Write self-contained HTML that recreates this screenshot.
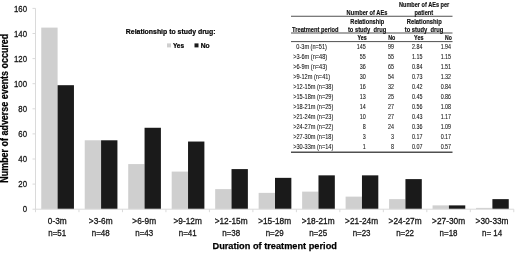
<!DOCTYPE html>
<html><head><meta charset="utf-8"><style>
html,body{margin:0;padding:0;background:#fff;}
body{width:520px;height:253px;overflow:hidden;}
svg{display:block;font-family:"Liberation Sans", sans-serif;filter:blur(0.35px);}
</style></head><body>
<svg width="520" height="253" viewBox="0 0 520 253">
<rect width="520" height="253" fill="#fff"/>
<rect x="41.25" y="27.61" width="16.35" height="181.54" fill="#cfcfcf"/>
<rect x="57.60" y="85.20" width="16.35" height="123.95" fill="#1a1a1a"/>
<rect x="84.73" y="140.29" width="16.35" height="68.86" fill="#cfcfcf"/>
<rect x="101.08" y="140.29" width="16.35" height="68.86" fill="#1a1a1a"/>
<rect x="128.21" y="164.08" width="16.35" height="45.07" fill="#cfcfcf"/>
<rect x="144.56" y="127.77" width="16.35" height="81.38" fill="#1a1a1a"/>
<rect x="171.69" y="171.59" width="16.35" height="37.56" fill="#cfcfcf"/>
<rect x="188.04" y="141.54" width="16.35" height="67.61" fill="#1a1a1a"/>
<rect x="215.17" y="189.12" width="16.35" height="20.03" fill="#cfcfcf"/>
<rect x="231.52" y="169.09" width="16.35" height="40.06" fill="#1a1a1a"/>
<rect x="258.65" y="192.87" width="16.35" height="16.28" fill="#cfcfcf"/>
<rect x="275.00" y="177.85" width="16.35" height="31.30" fill="#1a1a1a"/>
<rect x="302.13" y="191.62" width="16.35" height="17.53" fill="#cfcfcf"/>
<rect x="318.48" y="175.35" width="16.35" height="33.80" fill="#1a1a1a"/>
<rect x="345.61" y="196.63" width="16.35" height="12.52" fill="#cfcfcf"/>
<rect x="361.96" y="175.35" width="16.35" height="33.80" fill="#1a1a1a"/>
<rect x="389.09" y="199.13" width="16.35" height="10.02" fill="#cfcfcf"/>
<rect x="405.44" y="179.10" width="16.35" height="30.05" fill="#1a1a1a"/>
<rect x="432.57" y="205.39" width="16.35" height="3.76" fill="#cfcfcf"/>
<rect x="448.92" y="205.39" width="16.35" height="3.76" fill="#1a1a1a"/>
<rect x="476.05" y="207.90" width="16.35" height="1.25" fill="#cfcfcf"/>
<rect x="492.40" y="199.13" width="16.35" height="10.02" fill="#1a1a1a"/>
<line x1="35.5" y1="8.4" x2="35.5" y2="209.7" stroke="#dadada" stroke-width="1"/>
<line x1="35.5" y1="209.2" x2="513.78" y2="209.2" stroke="#dadada" stroke-width="1"/>
<line x1="32.5" y1="209.20" x2="35.5" y2="209.20" stroke="#dadada" stroke-width="1"/>
<text x="27.00" y="212.45" font-size="9.8" text-anchor="end" textLength="4.34" lengthAdjust="spacingAndGlyphs" fill="#141414" stroke="#141414" stroke-width="0.3">0</text>
<line x1="32.5" y1="184.10" x2="35.5" y2="184.10" stroke="#dadada" stroke-width="1"/>
<text x="27.00" y="187.35" font-size="9.8" text-anchor="end" textLength="8.68" lengthAdjust="spacingAndGlyphs" fill="#141414" stroke="#141414" stroke-width="0.3">20</text>
<line x1="32.5" y1="159.00" x2="35.5" y2="159.00" stroke="#dadada" stroke-width="1"/>
<text x="27.00" y="162.25" font-size="9.8" text-anchor="end" textLength="8.68" lengthAdjust="spacingAndGlyphs" fill="#141414" stroke="#141414" stroke-width="0.3">40</text>
<line x1="32.5" y1="133.90" x2="35.5" y2="133.90" stroke="#dadada" stroke-width="1"/>
<text x="27.00" y="137.15" font-size="9.8" text-anchor="end" textLength="8.68" lengthAdjust="spacingAndGlyphs" fill="#141414" stroke="#141414" stroke-width="0.3">60</text>
<line x1="32.5" y1="108.80" x2="35.5" y2="108.80" stroke="#dadada" stroke-width="1"/>
<text x="27.00" y="112.05" font-size="9.8" text-anchor="end" textLength="8.68" lengthAdjust="spacingAndGlyphs" fill="#141414" stroke="#141414" stroke-width="0.3">80</text>
<line x1="32.5" y1="83.70" x2="35.5" y2="83.70" stroke="#dadada" stroke-width="1"/>
<text x="27.00" y="86.95" font-size="9.8" text-anchor="end" textLength="13.01" lengthAdjust="spacingAndGlyphs" fill="#141414" stroke="#141414" stroke-width="0.3">100</text>
<line x1="32.5" y1="58.60" x2="35.5" y2="58.60" stroke="#dadada" stroke-width="1"/>
<text x="27.00" y="61.85" font-size="9.8" text-anchor="end" textLength="13.01" lengthAdjust="spacingAndGlyphs" fill="#141414" stroke="#141414" stroke-width="0.3">120</text>
<line x1="32.5" y1="33.50" x2="35.5" y2="33.50" stroke="#dadada" stroke-width="1"/>
<text x="27.00" y="36.75" font-size="9.8" text-anchor="end" textLength="13.01" lengthAdjust="spacingAndGlyphs" fill="#141414" stroke="#141414" stroke-width="0.3">140</text>
<line x1="32.5" y1="8.40" x2="35.5" y2="8.40" stroke="#dadada" stroke-width="1"/>
<text x="27.00" y="11.65" font-size="9.8" text-anchor="end" textLength="13.01" lengthAdjust="spacingAndGlyphs" fill="#141414" stroke="#141414" stroke-width="0.3">160</text>
<line x1="35.50" y1="209.2" x2="35.50" y2="212.2" stroke="#dadada" stroke-width="1"/>
<line x1="78.98" y1="209.2" x2="78.98" y2="212.2" stroke="#dadada" stroke-width="1"/>
<line x1="122.46" y1="209.2" x2="122.46" y2="212.2" stroke="#dadada" stroke-width="1"/>
<line x1="165.94" y1="209.2" x2="165.94" y2="212.2" stroke="#dadada" stroke-width="1"/>
<line x1="209.42" y1="209.2" x2="209.42" y2="212.2" stroke="#dadada" stroke-width="1"/>
<line x1="252.90" y1="209.2" x2="252.90" y2="212.2" stroke="#dadada" stroke-width="1"/>
<line x1="296.38" y1="209.2" x2="296.38" y2="212.2" stroke="#dadada" stroke-width="1"/>
<line x1="339.86" y1="209.2" x2="339.86" y2="212.2" stroke="#dadada" stroke-width="1"/>
<line x1="383.34" y1="209.2" x2="383.34" y2="212.2" stroke="#dadada" stroke-width="1"/>
<line x1="426.82" y1="209.2" x2="426.82" y2="212.2" stroke="#dadada" stroke-width="1"/>
<line x1="470.30" y1="209.2" x2="470.30" y2="212.2" stroke="#dadada" stroke-width="1"/>
<line x1="513.78" y1="209.2" x2="513.78" y2="212.2" stroke="#dadada" stroke-width="1"/>
<text x="57.24" y="224.40" font-size="9.3" text-anchor="middle" textLength="18.91" lengthAdjust="spacingAndGlyphs" fill="#141414" stroke="#141414" stroke-width="0.3">0-3m</text>
<text x="57.24" y="235.60" font-size="9.7" text-anchor="middle" textLength="17.91" lengthAdjust="spacingAndGlyphs" fill="#141414" stroke="#141414" stroke-width="0.3">n=51</text>
<text x="100.72" y="224.40" font-size="9.3" text-anchor="middle" textLength="23.76" lengthAdjust="spacingAndGlyphs" fill="#141414" stroke="#141414" stroke-width="0.3">&gt;3-6m</text>
<text x="100.72" y="235.60" font-size="9.7" text-anchor="middle" textLength="17.91" lengthAdjust="spacingAndGlyphs" fill="#141414" stroke="#141414" stroke-width="0.3">n=48</text>
<text x="144.20" y="224.40" font-size="9.3" text-anchor="middle" textLength="23.76" lengthAdjust="spacingAndGlyphs" fill="#141414" stroke="#141414" stroke-width="0.3">&gt;6-9m</text>
<text x="144.20" y="235.60" font-size="9.7" text-anchor="middle" textLength="17.91" lengthAdjust="spacingAndGlyphs" fill="#141414" stroke="#141414" stroke-width="0.3">n=43</text>
<text x="187.68" y="224.40" font-size="9.3" text-anchor="middle" textLength="28.37" lengthAdjust="spacingAndGlyphs" fill="#141414" stroke="#141414" stroke-width="0.3">&gt;9-12m</text>
<text x="187.68" y="235.60" font-size="9.7" text-anchor="middle" textLength="17.91" lengthAdjust="spacingAndGlyphs" fill="#141414" stroke="#141414" stroke-width="0.3">n=41</text>
<text x="231.16" y="224.40" font-size="9.3" text-anchor="middle" textLength="32.99" lengthAdjust="spacingAndGlyphs" fill="#141414" stroke="#141414" stroke-width="0.3">&gt;12-15m</text>
<text x="231.16" y="235.60" font-size="9.7" text-anchor="middle" textLength="17.91" lengthAdjust="spacingAndGlyphs" fill="#141414" stroke="#141414" stroke-width="0.3">n=38</text>
<text x="274.64" y="224.40" font-size="9.3" text-anchor="middle" textLength="32.99" lengthAdjust="spacingAndGlyphs" fill="#141414" stroke="#141414" stroke-width="0.3">&gt;15-18m</text>
<text x="274.64" y="235.60" font-size="9.7" text-anchor="middle" textLength="17.91" lengthAdjust="spacingAndGlyphs" fill="#141414" stroke="#141414" stroke-width="0.3">n=29</text>
<text x="318.12" y="224.40" font-size="9.3" text-anchor="middle" textLength="32.99" lengthAdjust="spacingAndGlyphs" fill="#141414" stroke="#141414" stroke-width="0.3">&gt;18-21m</text>
<text x="318.12" y="235.60" font-size="9.7" text-anchor="middle" textLength="17.91" lengthAdjust="spacingAndGlyphs" fill="#141414" stroke="#141414" stroke-width="0.3">n=25</text>
<text x="361.60" y="224.40" font-size="9.3" text-anchor="middle" textLength="32.99" lengthAdjust="spacingAndGlyphs" fill="#141414" stroke="#141414" stroke-width="0.3">&gt;21-24m</text>
<text x="361.60" y="235.60" font-size="9.7" text-anchor="middle" textLength="17.91" lengthAdjust="spacingAndGlyphs" fill="#141414" stroke="#141414" stroke-width="0.3">n=23</text>
<text x="405.08" y="224.40" font-size="9.3" text-anchor="middle" textLength="32.99" lengthAdjust="spacingAndGlyphs" fill="#141414" stroke="#141414" stroke-width="0.3">&gt;24-27m</text>
<text x="405.08" y="235.60" font-size="9.7" text-anchor="middle" textLength="17.91" lengthAdjust="spacingAndGlyphs" fill="#141414" stroke="#141414" stroke-width="0.3">n=22</text>
<text x="448.56" y="224.40" font-size="9.3" text-anchor="middle" textLength="32.99" lengthAdjust="spacingAndGlyphs" fill="#141414" stroke="#141414" stroke-width="0.3">&gt;27-30m</text>
<text x="448.56" y="235.60" font-size="9.7" text-anchor="middle" textLength="17.91" lengthAdjust="spacingAndGlyphs" fill="#141414" stroke="#141414" stroke-width="0.3">n=18</text>
<text x="492.04" y="224.40" font-size="9.3" text-anchor="middle" textLength="32.99" lengthAdjust="spacingAndGlyphs" fill="#141414" stroke="#141414" stroke-width="0.3">&gt;30-33m</text>
<text x="492.04" y="235.60" font-size="9.7" text-anchor="middle" textLength="20.11" lengthAdjust="spacingAndGlyphs" fill="#141414" stroke="#141414" stroke-width="0.3">n= 14</text>
<text x="274.70" y="249.00" font-size="9.8" font-weight="bold" text-anchor="middle" textLength="124.40" lengthAdjust="spacingAndGlyphs" fill="#000" stroke="#000" stroke-width="0.25">Duration of treatment period</text>
<g transform="translate(8.2,108.2) rotate(-90)">
<text x="0.00" y="0.00" font-size="10.6" font-weight="bold" text-anchor="middle" textLength="149.00" lengthAdjust="spacingAndGlyphs" fill="#000" stroke="#000" stroke-width="0.25">Number of adverse events occured</text>
</g>
<text x="125.80" y="33.80" font-size="7.3" font-weight="bold" textLength="89.80" lengthAdjust="spacingAndGlyphs" fill="#000" stroke="#000" stroke-width="0.2">Relationship to study drug:</text>
<rect x="167" y="43.4" width="4" height="4" fill="#cfcfcf"/>
<rect x="194.5" y="43.4" width="4" height="4" fill="#1a1a1a"/>
<text x="172.90" y="47.60" font-size="7.1" font-weight="bold" textLength="11.20" lengthAdjust="spacingAndGlyphs" fill="#000" stroke="#000" stroke-width="0.2">Yes</text>
<text x="200.70" y="47.60" font-size="7.1" font-weight="bold" textLength="9.00" lengthAdjust="spacingAndGlyphs" fill="#000" stroke="#000" stroke-width="0.2">No</text>
<line x1="291" y1="16.25" x2="452.5" y2="16.25" stroke="#505050" stroke-width="1"/>
<line x1="291" y1="33.0" x2="452.5" y2="33.0" stroke="#505050" stroke-width="1"/>
<line x1="291" y1="41.6" x2="452.5" y2="41.6" stroke="#505050" stroke-width="1"/>
<line x1="291" y1="152.3" x2="452.5" y2="152.3" stroke="#505050" stroke-width="1.5"/>
<text x="346.60" y="15.00" font-size="6.4" font-weight="bold" textLength="40.80" lengthAdjust="spacingAndGlyphs" fill="#111" stroke="#111" stroke-width="0.15">Number of AEs</text>
<text x="399.00" y="6.70" font-size="6.4" font-weight="bold" textLength="50.20" lengthAdjust="spacingAndGlyphs" fill="#111" stroke="#111" stroke-width="0.15">Number of AEs per</text>
<text x="414.60" y="14.90" font-size="6.4" font-weight="bold" textLength="18.50" lengthAdjust="spacingAndGlyphs" fill="#111" stroke="#111" stroke-width="0.15">patient</text>
<text x="350.30" y="23.70" font-size="6.4" font-weight="bold" textLength="33.90" lengthAdjust="spacingAndGlyphs" fill="#111" stroke="#111" stroke-width="0.15">Relationship</text>
<text x="347.90" y="31.90" font-size="6.4" font-weight="bold" textLength="38.40" lengthAdjust="spacingAndGlyphs" fill="#111" stroke="#111" stroke-width="0.15">to study  drug</text>
<text x="406.80" y="23.70" font-size="6.4" font-weight="bold" textLength="35.00" lengthAdjust="spacingAndGlyphs" fill="#111" stroke="#111" stroke-width="0.15">Relationship</text>
<text x="404.80" y="31.90" font-size="6.4" font-weight="bold" textLength="38.60" lengthAdjust="spacingAndGlyphs" fill="#111" stroke="#111" stroke-width="0.15">to study  drug</text>
<text x="292.10" y="31.50" font-size="6.4" font-weight="bold" textLength="46.40" lengthAdjust="spacingAndGlyphs" fill="#111" stroke="#111" stroke-width="0.15">Treatment period</text>
<text x="357.50" y="39.70" font-size="6.4" font-weight="bold" textLength="9.20" lengthAdjust="spacingAndGlyphs" fill="#111" stroke="#111" stroke-width="0.15">Yes</text>
<text x="388.20" y="39.70" font-size="6.4" font-weight="bold" textLength="7.10" lengthAdjust="spacingAndGlyphs" fill="#111" stroke="#111" stroke-width="0.15">No</text>
<text x="414.10" y="39.70" font-size="6.4" font-weight="bold" textLength="9.40" lengthAdjust="spacingAndGlyphs" fill="#111" stroke="#111" stroke-width="0.15">Yes</text>
<text x="445.00" y="39.70" font-size="6.4" font-weight="bold" textLength="6.80" lengthAdjust="spacingAndGlyphs" fill="#111" stroke="#111" stroke-width="0.15">No</text>
<text x="296.30" y="48.90" font-size="6.4" textLength="30.66" lengthAdjust="spacingAndGlyphs" fill="#111" stroke="#111" stroke-width="0.07">0-3m (n=51)</text>
<text x="356.83" y="48.90" font-size="6.4" textLength="8.97" lengthAdjust="spacingAndGlyphs" fill="#111" stroke="#111" stroke-width="0.07">145</text>
<text x="388.12" y="48.90" font-size="6.4" textLength="5.98" lengthAdjust="spacingAndGlyphs" fill="#111" stroke="#111" stroke-width="0.07">99</text>
<text x="412.04" y="48.90" font-size="6.4" textLength="10.46" lengthAdjust="spacingAndGlyphs" fill="#111" stroke="#111" stroke-width="0.07">2.84</text>
<text x="440.64" y="48.90" font-size="6.4" textLength="10.46" lengthAdjust="spacingAndGlyphs" fill="#111" stroke="#111" stroke-width="0.07">1.94</text>
<text x="293.20" y="58.86" font-size="6.4" textLength="33.93" lengthAdjust="spacingAndGlyphs" fill="#111" stroke="#111" stroke-width="0.07">&gt;3-6m (n=48)</text>
<text x="359.82" y="58.86" font-size="6.4" textLength="5.98" lengthAdjust="spacingAndGlyphs" fill="#111" stroke="#111" stroke-width="0.07">55</text>
<text x="388.12" y="58.86" font-size="6.4" textLength="5.98" lengthAdjust="spacingAndGlyphs" fill="#111" stroke="#111" stroke-width="0.07">55</text>
<text x="412.04" y="58.86" font-size="6.4" textLength="10.46" lengthAdjust="spacingAndGlyphs" fill="#111" stroke="#111" stroke-width="0.07">1.15</text>
<text x="440.64" y="58.86" font-size="6.4" textLength="10.46" lengthAdjust="spacingAndGlyphs" fill="#111" stroke="#111" stroke-width="0.07">1.15</text>
<text x="293.20" y="68.82" font-size="6.4" textLength="33.93" lengthAdjust="spacingAndGlyphs" fill="#111" stroke="#111" stroke-width="0.07">&gt;6-9m (n=43)</text>
<text x="359.82" y="68.82" font-size="6.4" textLength="5.98" lengthAdjust="spacingAndGlyphs" fill="#111" stroke="#111" stroke-width="0.07">36</text>
<text x="388.12" y="68.82" font-size="6.4" textLength="5.98" lengthAdjust="spacingAndGlyphs" fill="#111" stroke="#111" stroke-width="0.07">65</text>
<text x="412.04" y="68.82" font-size="6.4" textLength="10.46" lengthAdjust="spacingAndGlyphs" fill="#111" stroke="#111" stroke-width="0.07">0.84</text>
<text x="440.64" y="68.82" font-size="6.4" textLength="10.46" lengthAdjust="spacingAndGlyphs" fill="#111" stroke="#111" stroke-width="0.07">1.51</text>
<text x="293.20" y="78.78" font-size="6.4" textLength="37.04" lengthAdjust="spacingAndGlyphs" fill="#111" stroke="#111" stroke-width="0.07">&gt;9-12m (n=41)</text>
<text x="359.82" y="78.78" font-size="6.4" textLength="5.98" lengthAdjust="spacingAndGlyphs" fill="#111" stroke="#111" stroke-width="0.07">30</text>
<text x="388.12" y="78.78" font-size="6.4" textLength="5.98" lengthAdjust="spacingAndGlyphs" fill="#111" stroke="#111" stroke-width="0.07">54</text>
<text x="412.04" y="78.78" font-size="6.4" textLength="10.46" lengthAdjust="spacingAndGlyphs" fill="#111" stroke="#111" stroke-width="0.07">0.73</text>
<text x="440.64" y="78.78" font-size="6.4" textLength="10.46" lengthAdjust="spacingAndGlyphs" fill="#111" stroke="#111" stroke-width="0.07">1.32</text>
<text x="293.20" y="88.74" font-size="6.4" textLength="40.15" lengthAdjust="spacingAndGlyphs" fill="#111" stroke="#111" stroke-width="0.07">&gt;12-15m (n=38)</text>
<text x="359.82" y="88.74" font-size="6.4" textLength="5.98" lengthAdjust="spacingAndGlyphs" fill="#111" stroke="#111" stroke-width="0.07">16</text>
<text x="388.12" y="88.74" font-size="6.4" textLength="5.98" lengthAdjust="spacingAndGlyphs" fill="#111" stroke="#111" stroke-width="0.07">32</text>
<text x="412.04" y="88.74" font-size="6.4" textLength="10.46" lengthAdjust="spacingAndGlyphs" fill="#111" stroke="#111" stroke-width="0.07">0.42</text>
<text x="440.64" y="88.74" font-size="6.4" textLength="10.46" lengthAdjust="spacingAndGlyphs" fill="#111" stroke="#111" stroke-width="0.07">0.84</text>
<text x="293.20" y="98.70" font-size="6.4" textLength="40.15" lengthAdjust="spacingAndGlyphs" fill="#111" stroke="#111" stroke-width="0.07">&gt;15-18m (n=29)</text>
<text x="359.82" y="98.70" font-size="6.4" textLength="5.98" lengthAdjust="spacingAndGlyphs" fill="#111" stroke="#111" stroke-width="0.07">13</text>
<text x="388.12" y="98.70" font-size="6.4" textLength="5.98" lengthAdjust="spacingAndGlyphs" fill="#111" stroke="#111" stroke-width="0.07">25</text>
<text x="412.04" y="98.70" font-size="6.4" textLength="10.46" lengthAdjust="spacingAndGlyphs" fill="#111" stroke="#111" stroke-width="0.07">0.45</text>
<text x="440.64" y="98.70" font-size="6.4" textLength="10.46" lengthAdjust="spacingAndGlyphs" fill="#111" stroke="#111" stroke-width="0.07">0.86</text>
<text x="293.20" y="108.66" font-size="6.4" textLength="40.15" lengthAdjust="spacingAndGlyphs" fill="#111" stroke="#111" stroke-width="0.07">&gt;18-21m (n=25)</text>
<text x="359.82" y="108.66" font-size="6.4" textLength="5.98" lengthAdjust="spacingAndGlyphs" fill="#111" stroke="#111" stroke-width="0.07">14</text>
<text x="388.12" y="108.66" font-size="6.4" textLength="5.98" lengthAdjust="spacingAndGlyphs" fill="#111" stroke="#111" stroke-width="0.07">27</text>
<text x="412.04" y="108.66" font-size="6.4" textLength="10.46" lengthAdjust="spacingAndGlyphs" fill="#111" stroke="#111" stroke-width="0.07">0.56</text>
<text x="440.64" y="108.66" font-size="6.4" textLength="10.46" lengthAdjust="spacingAndGlyphs" fill="#111" stroke="#111" stroke-width="0.07">1.08</text>
<text x="293.20" y="118.62" font-size="6.4" textLength="40.15" lengthAdjust="spacingAndGlyphs" fill="#111" stroke="#111" stroke-width="0.07">&gt;21-24m (n=23)</text>
<text x="359.82" y="118.62" font-size="6.4" textLength="5.98" lengthAdjust="spacingAndGlyphs" fill="#111" stroke="#111" stroke-width="0.07">10</text>
<text x="388.12" y="118.62" font-size="6.4" textLength="5.98" lengthAdjust="spacingAndGlyphs" fill="#111" stroke="#111" stroke-width="0.07">27</text>
<text x="412.04" y="118.62" font-size="6.4" textLength="10.46" lengthAdjust="spacingAndGlyphs" fill="#111" stroke="#111" stroke-width="0.07">0.43</text>
<text x="440.64" y="118.62" font-size="6.4" textLength="10.46" lengthAdjust="spacingAndGlyphs" fill="#111" stroke="#111" stroke-width="0.07">1.17</text>
<text x="293.20" y="128.58" font-size="6.4" textLength="40.15" lengthAdjust="spacingAndGlyphs" fill="#111" stroke="#111" stroke-width="0.07">&gt;24-27m (n=22)</text>
<text x="362.81" y="128.58" font-size="6.4" textLength="2.99" lengthAdjust="spacingAndGlyphs" fill="#111" stroke="#111" stroke-width="0.07">8</text>
<text x="388.12" y="128.58" font-size="6.4" textLength="5.98" lengthAdjust="spacingAndGlyphs" fill="#111" stroke="#111" stroke-width="0.07">24</text>
<text x="412.04" y="128.58" font-size="6.4" textLength="10.46" lengthAdjust="spacingAndGlyphs" fill="#111" stroke="#111" stroke-width="0.07">0.36</text>
<text x="440.64" y="128.58" font-size="6.4" textLength="10.46" lengthAdjust="spacingAndGlyphs" fill="#111" stroke="#111" stroke-width="0.07">1.09</text>
<text x="293.20" y="138.54" font-size="6.4" textLength="40.15" lengthAdjust="spacingAndGlyphs" fill="#111" stroke="#111" stroke-width="0.07">&gt;27-30m (n=18)</text>
<text x="362.81" y="138.54" font-size="6.4" textLength="2.99" lengthAdjust="spacingAndGlyphs" fill="#111" stroke="#111" stroke-width="0.07">3</text>
<text x="391.11" y="138.54" font-size="6.4" textLength="2.99" lengthAdjust="spacingAndGlyphs" fill="#111" stroke="#111" stroke-width="0.07">3</text>
<text x="412.04" y="138.54" font-size="6.4" textLength="10.46" lengthAdjust="spacingAndGlyphs" fill="#111" stroke="#111" stroke-width="0.07">0.17</text>
<text x="440.64" y="138.54" font-size="6.4" textLength="10.46" lengthAdjust="spacingAndGlyphs" fill="#111" stroke="#111" stroke-width="0.07">0.17</text>
<text x="293.20" y="148.50" font-size="6.4" textLength="40.15" lengthAdjust="spacingAndGlyphs" fill="#111" stroke="#111" stroke-width="0.07">&gt;30-33m (n=14)</text>
<text x="362.81" y="148.50" font-size="6.4" textLength="2.99" lengthAdjust="spacingAndGlyphs" fill="#111" stroke="#111" stroke-width="0.07">1</text>
<text x="391.11" y="148.50" font-size="6.4" textLength="2.99" lengthAdjust="spacingAndGlyphs" fill="#111" stroke="#111" stroke-width="0.07">8</text>
<text x="412.04" y="148.50" font-size="6.4" textLength="10.46" lengthAdjust="spacingAndGlyphs" fill="#111" stroke="#111" stroke-width="0.07">0.07</text>
<text x="440.64" y="148.50" font-size="6.4" textLength="10.46" lengthAdjust="spacingAndGlyphs" fill="#111" stroke="#111" stroke-width="0.07">0.57</text>
</svg>
</body></html>
